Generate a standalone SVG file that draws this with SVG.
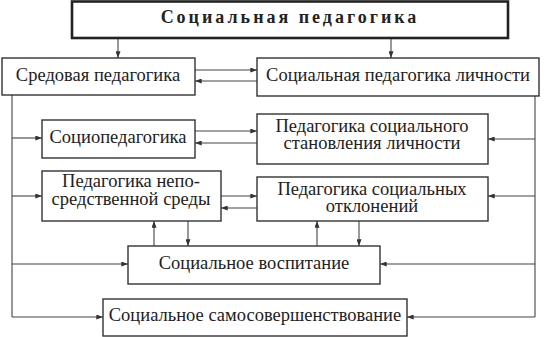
<svg xmlns="http://www.w3.org/2000/svg" width="550" height="337" viewBox="0 0 550 337">
<style>
.box{fill:#fff;stroke:#333;stroke-width:1.4}
.top{fill:#fff;stroke:#222;stroke-width:2.6}
.c{fill:none;stroke:#444;stroke-width:1.1}
.a{marker-end:url(#ah)}
.t{font-family:'Liberation Serif','Times New Roman',serif;fill:#222;text-anchor:middle;font-size:18.5px}
.tt{font-size:18px;font-weight:bold;letter-spacing:3px}
</style>
<defs>
<marker id="ah" viewBox="0 0 8 6" refX="8" refY="3" markerWidth="7" markerHeight="5" markerUnits="userSpaceOnUse" orient="auto">
<path d="M0,0 L8,3 L0,6 Z" fill="#333"/>
</marker>
</defs>
<rect width="550" height="337" fill="#fff"/>
<g id="connectors">
<path class="c a" d="M118,38 V58"/>
<path class="c a" d="M391,38 V58"/>
<path class="c a" d="M195,70 H257"/>
<path class="c a" d="M257,81 H195"/>
<path class="c" d="M12,95 V317"/>
<path class="c a" d="M12,138 H42"/>
<path class="c a" d="M12,196 H42"/>
<path class="c a" d="M12,264 H128"/>
<path class="c a" d="M12,317 H103"/>
<path class="c" d="M535,96 V317"/>
<path class="c a" d="M535,139 H488"/>
<path class="c a" d="M535,196 H488"/>
<path class="c a" d="M535,264 H380"/>
<path class="c a" d="M535,317 H407"/>
<path class="c a" d="M195,131 H257"/>
<path class="c a" d="M257,143 H195"/>
<path class="c a" d="M221,196 H257"/>
<path class="c a" d="M257,208 H221"/>
<path class="c a" d="M154,246 V221"/>
<path class="c a" d="M188,221 V246"/>
<path class="c a" d="M317,246 V221"/>
<path class="c a" d="M359,221 V246"/>
</g>
<g id="n-top">
<rect class="top" x="72" y="1.5" width="436" height="36.5"/>
<text class="t tt" x="290" y="23">Социальная педагогика</text>
</g>
<g id="n-sred">
<rect class="box" x="2" y="58" width="193" height="37"/>
<text class="t" x="98" y="81">Средовая педагогика</text>
</g>
<g id="n-spl">
<rect class="box" x="257" y="58" width="282" height="38"/>
<text class="t" x="398" y="81">Социальная педагогика личности</text>
</g>
<g id="n-socio">
<rect class="box" x="42" y="120" width="153" height="38"/>
<text class="t" x="118" y="143">Социопедагогика</text>
</g>
<g id="n-pss">
<rect class="box" x="257" y="114" width="231" height="50"/>
<text class="t" x="372" y="132">Педагогика социального</text>
<text class="t" x="372" y="149">становления личности</text>
</g>
<g id="n-pns">
<rect class="box" x="42" y="171" width="179" height="50"/>
<text class="t" x="131" y="187">Педагогика непо-</text>
<text class="t" x="131" y="205">средственной среды</text>
</g>
<g id="n-pso">
<rect class="box" x="257" y="177" width="231" height="44"/>
<text class="t" x="372" y="195">Педагогика социальных</text>
<text class="t" x="372" y="212">отклонений</text>
</g>
<g id="n-sv">
<rect class="box" x="128" y="246" width="252" height="38"/>
<text class="t" x="254" y="269">Социальное воспитание</text>
</g>
<g id="n-sss">
<rect class="box" x="103" y="299" width="304" height="37"/>
<text class="t" x="255" y="321">Социальное самосовершенствование</text>
</g>
</svg>
